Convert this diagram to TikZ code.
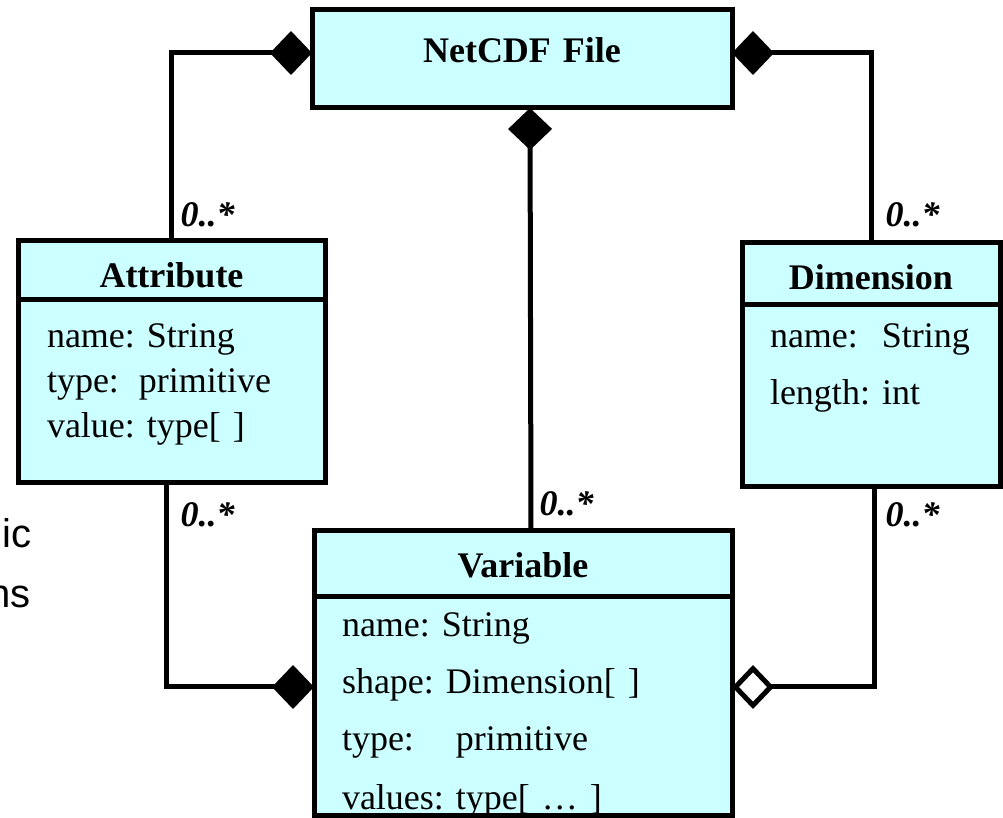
\documentclass[tikz,border=0pt]{standalone}
\usepackage{fontspec}
\setmainfont{Liberation Serif}
\newfontfamily\cutfont{Liberation Sans}
\usetikzlibrary{arrows.meta,positioning}
\frenchspacing
\definecolor{ClassCyan}{HTML}{CCFFFF}
\tikzset{
  classbox/.style={draw=black, fill=ClassCyan, line width=2.5pt, outer sep=0pt,
                   inner sep=0pt, font=\fontsize{18}{22.5}\selectfont},
  classhead/.style={classbox, align=center, text height=23.5pt,
                    font=\fontsize{18}{22.5}\selectfont\bfseries},
  classbody/.style={classbox, inner xsep=14pt, align=left},
  link/.style={line width=2.5pt, draw=black},
  owns/.style={link, -{Diamond[length=21pt,width=22pt]}},
  refs/.style={link, -{Diamond[open,length=21pt,width=22pt,fill=white]}},
  mult/.style={font=\fontsize{18}{22.5}\selectfont\bfseries\itshape, inner sep=0pt, anchor=base west},
  cut/.style={font=\cutfont\fontsize{20}{24}\selectfont, inner sep=0pt, anchor=base east},
}
\begin{document}
\begin{tikzpicture}[x=0.5pt,y=-0.5pt]
  \useasboundingbox (0,0) rectangle (1003,818);
  \node[cut] (cuta) at (32,548) {ic};
  \node[cut] (cutb) at (31,608) {ns};
  \node[classhead, anchor=north west, text width=210pt, text height=26.5pt, text depth=22.5pt] (file) at (312,10) {NetCDF File};
  \node[classhead, anchor=north west, text width=153.5pt, text depth=6pt] (attr) at (18,241) {Attribute};
  \node[classbody, below=0pt of attr, inner xsep=14.5pt, text width=124.5pt, text height=24pt, text depth=67.5pt] (attrbody)
    {name: String\\type:\kern4pt~primitive\\value: type[ ]};
  \node[classhead, anchor=north west, text width=129pt, text depth=7.5pt] (dim) at (742,243) {Dimension};
  \node[classbody, below=0pt of dim, text width=101pt, text height=21.5pt, text depth=69.5pt,
        font=\fontsize{18}{28.5}\selectfont] (dimbody)
    {name:\kern6pt~String\\length: int};
  \node[classhead, anchor=north west, text width=209pt, text depth=9.5pt] (var) at (314,531) {Variable};
  \node[classbody, below=0pt of var, text width=181pt, text height=20pt, text depth=89pt,
        font=\fontsize{18}{28.5}\selectfont] (varbody)
    {name: String\\shape: Dimension[ ]\\type:\kern15pt~primitive\\[1pt]values: type[ … ]};
  \draw[owns] (attr.north) |- ([yshift=3pt]file.west)
    node[mult, at start, xshift=3.25pt, yshift=7pt] {0..*};
  \draw[owns] (dim.north) |- ([yshift=3pt]file.east)
    node[mult, at start, xshift=6pt, yshift=8pt] {0..*};
  \draw[owns] ([xshift=4pt]var.north) -- ([xshift=4pt]file.south)
    node[mult, at start, xshift=3pt, yshift=7.5pt] {0..*};
  \draw[owns] ([xshift=-2.75pt]attrbody.south) |- ([yshift=9.5pt]varbody.west)
    node[mult, at start, xshift=6pt, yshift=-22pt] {0..*};
  \draw[refs] ([xshift=1.5pt]dimbody.south) |- ([yshift=9.5pt]varbody.east)
    node[mult, at start, xshift=4.5pt, yshift=-20pt] {0..*};
\end{tikzpicture}
\end{document}
